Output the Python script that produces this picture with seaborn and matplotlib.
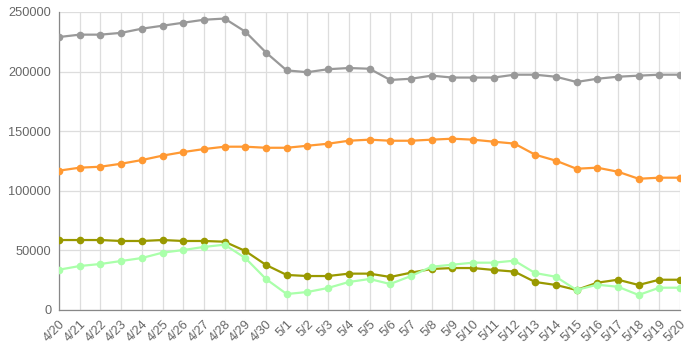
import matplotlib
matplotlib.use("Agg")
import matplotlib.pyplot as plt
import seaborn as sns
import pandas as pd

dates = ["4/20", "4/21", "4/22", "4/23", "4/24", "4/25", "4/26", "4/27", "4/28", "4/29", "4/30",
         "5/1", "5/2", "5/3", "5/4", "5/5", "5/6", "5/7", "5/8", "5/9", "5/10",
         "5/11", "5/12", "5/13", "5/14", "5/15", "5/16", "5/17", "5/18", "5/19", "5/20"]

gray_vals = [229000, 231000, 231000, 232500, 236000, 238500, 241000, 243500, 244500, 233500, 216000,
             201000, 199500, 202000, 203000, 202400, 193000, 194000, 196600, 195000, 195000,
             195000, 197400, 197400, 195700, 191300, 194000, 195700, 196600, 197400, 197400]
orange_vals = [116900, 119400, 120200, 122700, 125800, 129500, 132500, 135000, 137000, 137000, 136100,
               136100, 137800, 139500, 142000, 142900, 142000, 142000, 142900, 143700, 142900,
               141200, 139600, 130300, 125300, 118500, 119400, 116000, 110100, 111000, 111000]
olive_vals = [58700, 58700, 58700, 57900, 57900, 58700, 57900, 57900, 57300, 49500, 37800,
              29400, 28500, 28500, 30500, 30500, 27700, 31300, 34400, 35200, 35200,
              33600, 32200, 23500, 21000, 16800, 22900, 25400, 21000, 25400, 25400]
green_vals = [33800, 36900, 38600, 41100, 43600, 48100, 50300, 52900, 54800, 43600, 26000,
              13400, 15100, 18500, 23500, 26000, 21800, 28500, 36300, 38000, 39700,
              39700, 41400, 31000, 27900, 16800, 21200, 19500, 12600, 18700, 18700]

series = {"gray": gray_vals, "orange": orange_vals, "olive": olive_vals, "green": green_vals}
colors = {"gray": "#999999", "orange": "#ff9933", "olive": "#999900", "green": "#aaffaa"}

rows = []
for name, vals in series.items():
    for i, v in enumerate(vals):
        rows.append({"idx": i, "value": v, "series": name})
df = pd.DataFrame(rows)

sns.set_style("white")
plt.rcParams["font.family"] = ["Liberation Sans", "DejaVu Sans"]

fig = plt.figure(figsize=(6.94, 3.62), dpi=100)
ax = fig.add_axes([59 / 694, 52 / 362, 621 / 694, 298 / 362])

sns.lineplot(data=df, x="idx", y="value", hue="series", palette=colors,
             marker="o", markersize=5.5, markeredgewidth=0, linewidth=1.6,
             legend=False, ax=ax, zorder=3)

ax.set_xlim(0, len(dates) - 1)
ax.set_ylim(0, 250000)
ax.set_xticks(range(len(dates)))
ax.set_xticklabels(dates, rotation=45, ha="right", rotation_mode="anchor")
ax.set_yticks(range(0, 250001, 50000))
ax.set_xlabel("")
ax.set_ylabel("")
ax.grid(True, color="#dddddd", linewidth=0.9)
ax.set_axisbelow(True)
ax.tick_params(axis="both", colors="#888888", labelcolor="#666666", labelsize=9.2,
               length=3.6, width=0.9, direction="out", pad=2)
for side in ["top", "right"]:
    ax.spines[side].set_visible(False)
for side in ["left", "bottom"]:
    ax.spines[side].set_color("#888888")
    ax.spines[side].set_linewidth(0.9)

fig.savefig("out.png", dpi=100)
